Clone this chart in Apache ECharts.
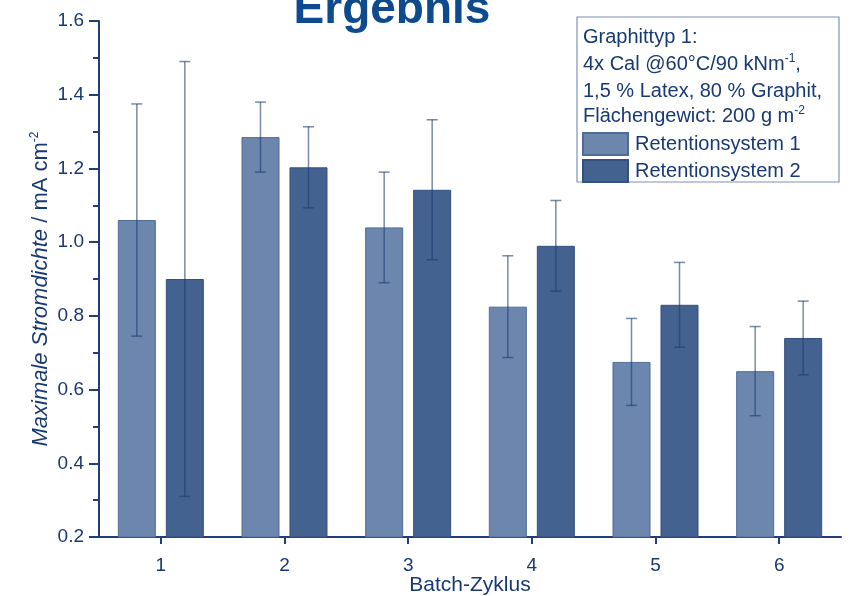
<!DOCTYPE html>
<html>
<head>
<meta charset="utf-8">
<title>Ergebnis</title>
<script src="https://cdn.jsdelivr.net/npm/echarts@6/dist/echarts.min.js"></script>
<style>
  html, body { margin: 0; padding: 0; background: #ffffff; }
  #chart { width: 850px; height: 596px; }
</style>
</head>
<body>
<div id="chart"></div>
<script>
// Batch cycles on the x axis
const cycles = ['1', '2', '3', '4', '5', '6'];

// Mean maximum current density (mA cm^-2) per retention system
const meanR1 = [1.06, 1.285, 1.04, 0.825, 0.675, 0.65];
const meanR2 = [0.90, 1.203, 1.142, 0.99, 0.83, 0.74];

// Standard deviations (symmetric error bars)
const errR1 = [0.315, 0.095, 0.15, 0.138, 0.118, 0.121];
const errR2 = [0.59, 0.11, 0.19, 0.123, 0.115, 0.10];

// Y-axis range and step
const yMin = 0.2, yMax = 1.6, yStep = 0.2;

const seriesNames = ['Retentionsystem 1', 'Retentionsystem 2'];

const navy = '#173a73';
const axisColor = '#1f3f78';
const colR1 = '#6c86ad', borderR1 = '#506d99';
const colR2 = '#43628f', borderR2 = '#33517e';

const BAR_W = 38;
const BAR_GAP = 10;
const CAP_W = 11;

function errorData(means, errs) {
  return means.map((m, i) => [i, m - errs[i], m + errs[i]]);
}

function errorRenderer(side) {
  return function (params, api) {
    const idx = api.value(0);
    const lo = api.coord([idx, api.value(1)]);
    const hi = api.coord([idx, api.value(2)]);
    const x = lo[0] + side * (BAR_W + BAR_GAP) / 2;
    const style = { stroke: 'rgba(30,60,115,0.6)', lineWidth: 1.5 };
    return {
      type: 'group',
      children: [
        { type: 'line', shape: { x1: x, y1: hi[1], x2: x, y2: lo[1] }, style: style },
        { type: 'line', shape: { x1: x - CAP_W / 2, y1: hi[1], x2: x + CAP_W / 2, y2: hi[1] }, style: style },
        { type: 'line', shape: { x1: x - CAP_W / 2, y1: lo[1], x2: x + CAP_W / 2, y2: lo[1] }, style: style }
      ]
    };
  };
}

const chart = echarts.init(document.getElementById('chart'), null, { renderer: 'canvas' });

const fontFamily = 'Liberation Sans, Arial, sans-serif';

// Header lines of the legend box
const headerLines = [
  'Graphittyp 1:',
  '4x Cal @60°C/90 kNm{sup|-1},',
  '1,5 % Latex, 80 % Graphit,',
  'Flächengewict: 200 g m{sup|-2}'
];
const headerY = [37, 64, 91, 116];

const graphics = [
  {
    type: 'text',
    z: 10,
    x: 392, y: 10,
    style: {
      text: 'Ergebnis',
      fill: '#0d4a8e',
      font: 'bold 46px ' + fontFamily,
      textAlign: 'center',
      textVerticalAlign: 'middle'
    }
  },
  {
    type: 'rect',
    z: 1,
    shape: { x: 577, y: 17, width: 262, height: 165 },
    style: { fill: '#ffffff', stroke: '#7d92b8', lineWidth: 1.2 }
  }
];
headerLines.forEach((t, i) => {
  graphics.push({
    type: 'text',
    z: 10,
    x: 583, y: headerY[i],
    style: {
      text: t,
      fill: navy,
      fontSize: 20,
      fontFamily: fontFamily,
      lineHeight: 22,
      textAlign: 'left',
      textVerticalAlign: 'middle',
      rich: {
        sup: { fontSize: 12, lineHeight: 12, verticalAlign: 'top', fill: navy, fontFamily: fontFamily }
      }
    }
  });
});

const option = {
  backgroundColor: '#ffffff',
  animation: false,
  textStyle: { fontFamily: fontFamily },
  grid: { left: 99, top: 21, width: 742, height: 516, containLabel: false, outerBoundsMode: 'none' },
  legend: {
    data: seriesNames,
    orient: 'vertical',
    left: 582,
    top: 132,
    padding: 0,
    itemGap: 3,
    itemWidth: 45,
    itemHeight: 22,
    icon: 'rect',
    z: 12,
    textStyle: { fontSize: 20, color: navy, fontFamily: fontFamily, padding: [0, 0, 0, 2] }
  },
  xAxis: {
    type: 'category',
    data: cycles,
    name: 'Batch-Zyklus',
    nameLocation: 'middle',
    nameGap: 38,
    nameMoveOverlap: false,
    nameTextStyle: { fontSize: 21, color: navy, fontFamily: fontFamily },
    axisLine: { show: true, lineStyle: { color: axisColor, width: 2 } },
    axisTick: { show: true, alignWithLabel: true, length: 7, lineStyle: { color: axisColor, width: 2 } },
    axisLabel: { fontSize: 19, color: navy, margin: 19, fontFamily: fontFamily },
    splitLine: { show: false }
  },
  yAxis: {
    type: 'value',
    min: yMin,
    max: yMax,
    interval: yStep,
    name: '{i|Maximale Stromdichte} / mA cm{s|-2}',
    nameLocation: 'middle',
    nameGap: 46,
    nameMoveOverlap: false,
    nameTextStyle: {
      fontSize: 22, color: navy, fontFamily: fontFamily, lineHeight: 24,
      padding: [0, 20, 0, 0],
      rich: {
        i: { fontStyle: 'italic', fontSize: 22, color: navy, fontFamily: fontFamily, lineHeight: 24 },
        s: { fontSize: 12, color: navy, fontFamily: fontFamily, lineHeight: 12, verticalAlign: 'top' }
      }
    },
    axisLine: { show: true, lineStyle: { color: axisColor, width: 2 } },
    axisTick: { show: true, length: 10, lineStyle: { color: axisColor, width: 2 } },
    minorTick: { show: true, splitNumber: 2, length: 6, lineStyle: { color: axisColor, width: 2 } },
    axisLabel: {
      fontSize: 19, color: navy, margin: 15, fontFamily: fontFamily,
      formatter: v => v.toFixed(1)
    },
    splitLine: { show: false }
  },
  series: [
    {
      name: seriesNames[0],
      type: 'bar',
      data: meanR1,
      barWidth: BAR_W,
      barGap: (BAR_GAP / BAR_W * 100).toFixed(1) + '%',
      itemStyle: { color: colR1, borderColor: borderR1, borderWidth: 1 },
      z: 2
    },
    {
      name: seriesNames[1],
      type: 'bar',
      data: meanR2,
      barWidth: BAR_W,
      barGap: (BAR_GAP / BAR_W * 100).toFixed(1) + '%',
      itemStyle: { color: colR2, borderColor: borderR2, borderWidth: 1 },
      z: 2
    },
    {
      name: 'err1',
      type: 'custom',
      renderItem: errorRenderer(-1),
      data: errorData(meanR1, errR1),
      encode: { x: 0, y: [1, 2] },
      z: 5,
      silent: true
    },
    {
      name: 'err2',
      type: 'custom',
      renderItem: errorRenderer(1),
      data: errorData(meanR2, errR2),
      encode: { x: 0, y: [1, 2] },
      z: 5,
      silent: true
    }
  ],
  graphic: graphics
};

chart.setOption(option);
</script>
</body>
</html>
